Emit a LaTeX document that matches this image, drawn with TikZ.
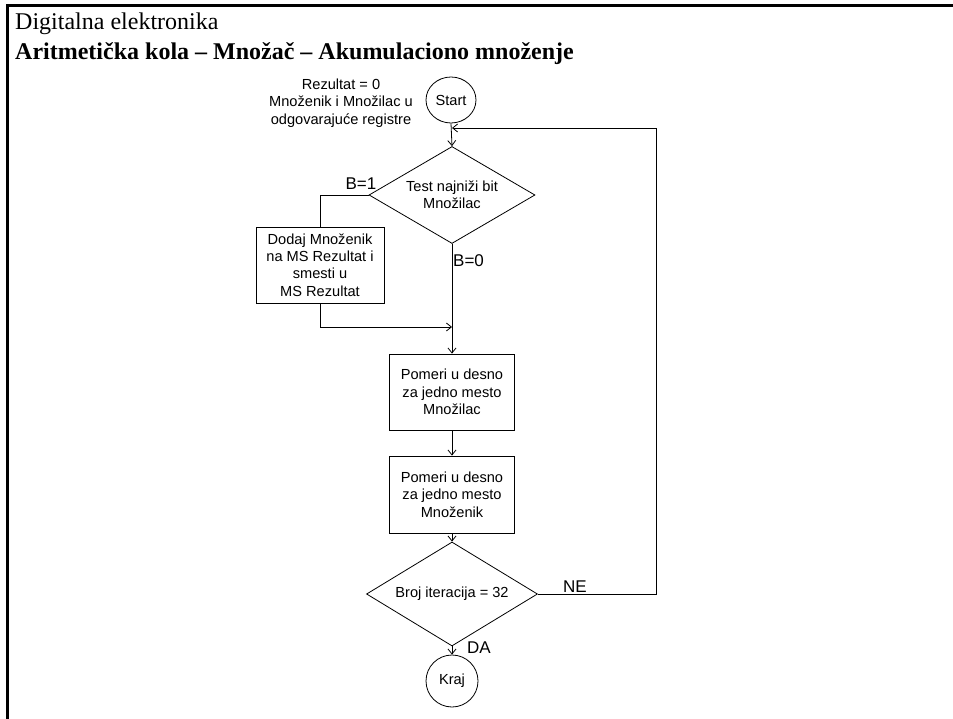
\documentclass[tikz,border=0pt]{standalone}
\usepackage{fontspec}
\setmainfont{Liberation Serif}
\newfontfamily\flowfont{Liberation Sans}
\usetikzlibrary{shapes.geometric,arrows.meta}

\begin{document}
\begin{tikzpicture}[x=1pt,y=-1pt,
  flow/.style={draw, line width=0.8pt, font=\flowfont\fontsize{14.6}{17.3}\selectfont,
    align=center, inner sep=0pt},
  proc/.style={flow, rectangle},
  decision/.style={flow, diamond, aspect=1.7},
  term/.style={flow, ellipse},
  edge/.style={line width=0.8pt, -{Straight Barb[length=5pt,width=8pt]}},
  plain/.style={line width=0.8pt},
  lbl/.style={font=\flowfont\fontsize{17}{20}\selectfont, inner sep=0pt},
  note/.style={font=\flowfont\fontsize{14.6}{17.3}\selectfont, align=center, inner sep=0pt},
]
\useasboundingbox (0,0) rectangle (953,719);
\fill[white] (0,0) rectangle (953,719);

% slide frame: top and left edges
\draw[line width=2.6pt] (7.5,719) -- (7.5,5.3) -- (953,5.3);

% slide headings
\node[anchor=base west, inner sep=0pt, font=\fontsize{24}{28}\selectfont]
  (course) at (15,30) {Digitalna elektronika};
\node[anchor=base west, inner sep=0pt, font=\bfseries\fontsize{24}{28}\selectfont]
  (title) at (15,60) {Aritmetička kola – Množač – Akumulaciono množenje};

% flowchart blocks
\node[term, minimum width=50pt, minimum height=46pt] (start) at (451,100) {Start};
\node[note] (init) at (341,103) {Rezultat = 0\\Množenik i Množilac u\\odgovarajuće registre};
\node[decision, minimum width=166pt, minimum height=97pt] (test) at (452,195)
  {Test najniži bit\\Množilac};
\node[proc, minimum width=128pt, minimum height=76pt] (add) at (320,265)
  {Dodaj Množenik\\na MS Rezultat i\\smesti u\\MS Rezultat};
\node[proc, minimum width=125pt, minimum height=76pt] (shm) at (452,392)
  {Pomeri u desno\\za jedno mesto\\Množilac};
\node[proc, minimum width=125pt, minimum height=77pt] (shn) at (452,494.5)
  {Pomeri u desno\\za jedno mesto\\Množenik};
\node[decision, minimum width=171pt, minimum height=104pt] (cnt) at (452,594)
  {Broj iteracija = 32};
\node[term, minimum width=52pt, minimum height=52pt] (end) at (452,681) {Kraj};

% junction points on the main line
\coordinate (loop) at (452,128);
\coordinate (merge) at (452,327);

% connectors
\draw[edge] (start.south) -- (test.north);
\draw[plain] (test.west) -| (add.north);
\draw[edge] (add.south) |- (merge);
\draw[edge] (test.south) -- (shm.north);
\draw[edge] (shm) -- (shn);
\draw[edge] (shn) -- (cnt);
\draw[edge] (cnt) -- (end);
\draw[edge] (cnt.east) -- ++(118,0) |- (loop);

% branch labels
\node[lbl] (b1) at (361,184) {B=1};
\node[lbl, anchor=west] (b0) at (453,261) {B=0};
\node[lbl] (ne) at (575,587) {NE};
\node[lbl] (da) at (479,648) {DA};
\end{tikzpicture}
\end{document}
